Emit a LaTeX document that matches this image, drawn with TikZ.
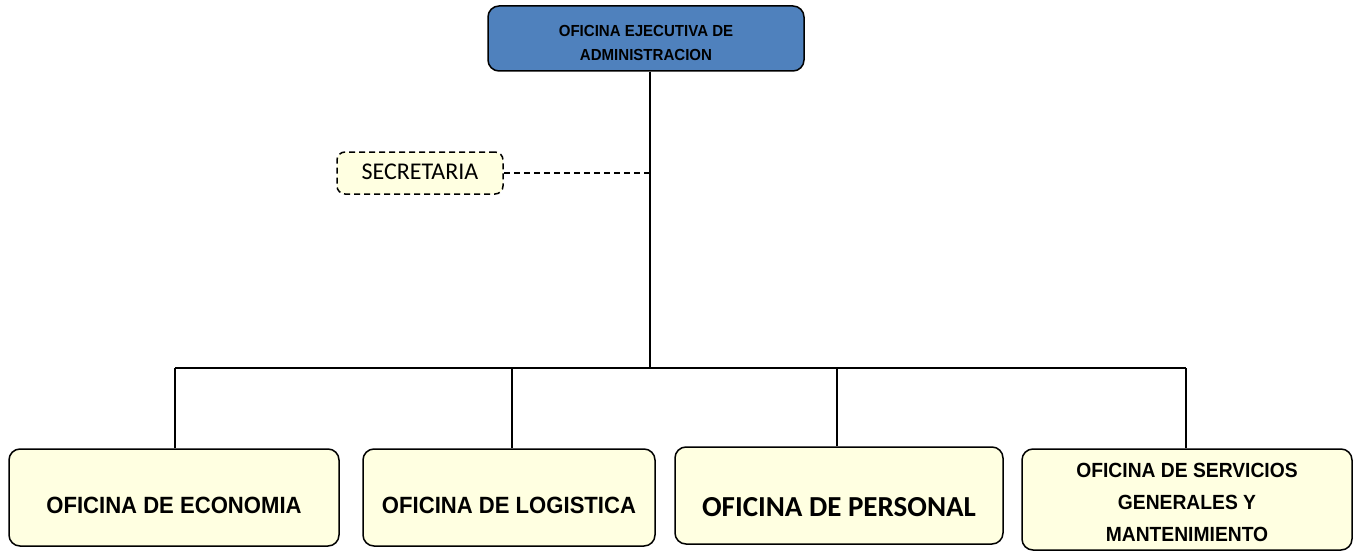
\documentclass[tikz,border=0pt]{standalone}
\usepackage{fontspec}
\setmainfont{Liberation Sans}
\newfontfamily\narrowf[FakeStretch=0.94]{Liberation Sans}
\newfontfamily\calib{Carlito}
\definecolor{topblue}{HTML}{4F81BD}
\definecolor{paleyel}{HTML}{FFFFE1}
\begin{document}
\begin{tikzpicture}[x=1pt,y=-1pt,
  box/.style={draw=black, line width=1.5pt, rounded corners=11pt, fill=paleyel, inner sep=0pt},
  txt/.style={inner sep=0pt, align=center},
  link/.style={draw=black, line width=1.3pt},
  dlink/.style={draw=black, line width=1.3pt, dash pattern=on 6pt off 4pt}]
\useasboundingbox (0,0) rectangle (1358,551);
\node[box, fill=topblue, minimum width=316pt, minimum height=65pt,
  label={[txt, yshift=-4.5pt, font=\narrowf\bfseries\fontsize{16}{24}\selectfont]center:OFICINA EJECUTIVA DE\\ADMINISTRACION}] (top) at (646,38.5) {};
\node[box, dash pattern=on 6pt off 4pt, rounded corners=8pt, minimum width=166pt, minimum height=42pt,
  label={[txt, yshift=1.5pt, font=\calib\fontsize{24}{28}\selectfont]center:SECRETARIA}] (sec) at (420,173) {};
\node[box, minimum width=330pt, minimum height=97pt,
  label={[txt, yshift=-8pt, font=\narrowf\bfseries\fontsize{23.5}{28}\selectfont]center:OFICINA DE ECONOMIA}] (eco) at (174,497.5) {};
\node[box, minimum width=292pt, minimum height=97pt,
  label={[txt, yshift=-7.5pt, font=\narrowf\bfseries\fontsize{23.5}{28}\selectfont]center:OFICINA DE LOGISTICA}] (log) at (509,497.5) {};
\node[box, minimum width=328pt, minimum height=97pt,
  label={[txt, yshift=-12pt, font=\calib\bfseries\fontsize{29}{33}\selectfont]center:OFICINA DE PERSONAL}] (per) at (839,495.5) {};
\node[box, minimum width=330pt, minimum height=101pt,
  label={[txt, yshift=-3pt, font=\narrowf\bfseries\fontsize{20.5}{32}\selectfont]center:OFICINA DE SERVICIOS\\GENERALES Y\\MANTENIMIENTO}] (ser) at (1187,499.5) {};
\coordinate (j) at (650,368);
\coordinate (s) at (650,173);
\draw[link] ([xshift=4pt]top.south) -- (j);
\draw[dlink] (sec.east) -- (s);
\draw[link] ([xshift=1pt]eco.north |- j) -- ([xshift=-1pt]ser.north |- j);
\draw[link] ([xshift=1pt]eco.north) -- ([xshift=1pt]eco.north |- j);
\draw[link] ([xshift=3pt]log.north) -- ([xshift=3pt]log.north |- j);
\draw[link] ([xshift=-2pt]per.north) -- ([xshift=-2pt]per.north |- j);
\draw[link] ([xshift=-1pt]ser.north) -- ([xshift=-1pt]ser.north |- j);
\end{tikzpicture}
\end{document}
